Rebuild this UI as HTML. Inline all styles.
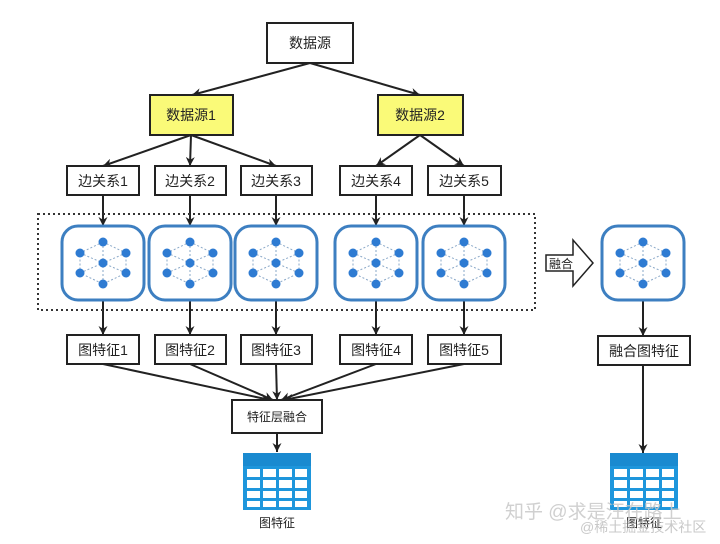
<!DOCTYPE html>
<html><head><meta charset="utf-8"><style>
body{margin:0;background:#fff;}
svg text{font-family:"Liberation Sans","Noto Sans CJK SC",sans-serif;}
</style></head><body>
<svg width="720" height="539" viewBox="0 0 720 539" xmlns="http://www.w3.org/2000/svg">
<defs>
<marker id="a" viewBox="0 0 10 10" refX="10" refY="5" markerWidth="9" markerHeight="9" markerUnits="userSpaceOnUse" orient="auto"><path d="M0,0L10,5L0,10L3,5z" fill="#222"/></marker>
<g id="g">
<rect x="-41" y="-37" width="82" height="74" rx="16" fill="#fff" stroke="#3d7fc1" stroke-width="3"/>
<g stroke="#8aa8c8" stroke-width="1" stroke-dasharray="2,2" fill="none">
<path d="M0,-21L23,-10L23,10L0,21L-23,10L-23,-10Z M0,-21L0,21 M-23,-10L23,10 M23,-10L-23,10"/>
</g>
<g fill="#2e7bd2">
<circle cx="0" cy="-21" r="4.5"/><circle cx="23" cy="-10" r="4.5"/><circle cx="23" cy="10" r="4.5"/>
<circle cx="0" cy="21" r="4.5"/><circle cx="-23" cy="10" r="4.5"/><circle cx="-23" cy="-10" r="4.5"/><circle cx="0" cy="0" r="4.5"/>
</g></g>
<g id="t">
<rect x="0" y="0" width="68" height="57" fill="#1e96dc"/>
<rect x="0" y="0" width="68" height="13" fill="#1a8ad0"/>
<g fill="#fff">
<rect x="4" y="16" width="13" height="8"/><rect x="20" y="16" width="13" height="8"/><rect x="36" y="16" width="13" height="8"/><rect x="52" y="16" width="12" height="8"/>
<rect x="4" y="27" width="13" height="8"/><rect x="20" y="27" width="13" height="8"/><rect x="36" y="27" width="13" height="8"/><rect x="52" y="27" width="12" height="8"/>
<rect x="4" y="38" width="13" height="7"/><rect x="20" y="38" width="13" height="7"/><rect x="36" y="38" width="13" height="7"/><rect x="52" y="38" width="12" height="7"/>
<rect x="4" y="48" width="13" height="6"/><rect x="20" y="48" width="13" height="6"/><rect x="36" y="48" width="13" height="6"/><rect x="52" y="48" width="12" height="6"/>
</g></g>
</defs>
<g stroke="#222" stroke-width="2" fill="none" marker-end="url(#a)">
<line x1="310" y1="63" x2="192" y2="95"/>
<line x1="310" y1="63" x2="420" y2="95"/>
<line x1="191" y1="135" x2="103" y2="166"/>
<line x1="191" y1="135" x2="190" y2="166"/>
<line x1="191" y1="135" x2="276" y2="166"/>
<line x1="420" y1="135" x2="376" y2="166"/>
<line x1="420" y1="135" x2="464" y2="166"/>
<line x1="103" y1="195" x2="103" y2="226"/>
<line x1="190" y1="195" x2="190" y2="226"/>
<line x1="276" y1="195" x2="276" y2="226"/>
<line x1="376" y1="195" x2="376" y2="226"/>
<line x1="464" y1="195" x2="464" y2="226"/>
<line x1="103" y1="300" x2="103" y2="335"/>
<line x1="190" y1="300" x2="190" y2="335"/>
<line x1="276" y1="300" x2="276" y2="335"/>
<line x1="376" y1="300" x2="376" y2="335"/>
<line x1="464" y1="300" x2="464" y2="335"/>
<line x1="643" y1="300" x2="643" y2="336"/>
<line x1="643" y1="365" x2="643" y2="453"/>
<line x1="103" y1="364" x2="270" y2="400"/>
<line x1="190" y1="364" x2="273" y2="400"/>
<line x1="276" y1="364" x2="277" y2="400"/>
<line x1="376" y1="364" x2="281" y2="400"/>
<line x1="464" y1="364" x2="284" y2="400"/>
<line x1="277" y1="433" x2="277" y2="452"/>
</g>
<rect x="38" y="214" width="497" height="96" fill="none" stroke="#333" stroke-width="2" stroke-dasharray="2,3"/>
<use href="#g" x="103" y="263"/><use href="#g" x="190" y="263"/><use href="#g" x="276" y="263"/><use href="#g" x="376" y="263"/><use href="#g" x="464" y="263"/><use href="#g" x="643" y="263"/>
<path d="M546,255L573,255L573,240L593,263L573,286L573,271L546,271Z" fill="#fff" stroke="#222" stroke-width="1.5"/>
<text x="561" y="268" font-size="12" fill="#222" text-anchor="middle">融合</text>
<g stroke="#222" stroke-width="2">
<rect x="267" y="23" width="86" height="40" fill="#fff"/>
<rect x="150" y="95" width="83" height="40" fill="#fafa78"/>
<rect x="378" y="95" width="85" height="40" fill="#fafa78"/>
<rect x="67" y="166" width="72" height="29" fill="#fff"/>
<rect x="155" y="166" width="71" height="29" fill="#fff"/>
<rect x="241" y="166" width="71" height="29" fill="#fff"/>
<rect x="340" y="166" width="72" height="29" fill="#fff"/>
<rect x="428" y="166" width="73" height="29" fill="#fff"/>
<rect x="67" y="335" width="72" height="29" fill="#fff"/>
<rect x="155" y="335" width="71" height="29" fill="#fff"/>
<rect x="241" y="335" width="71" height="29" fill="#fff"/>
<rect x="340" y="335" width="72" height="29" fill="#fff"/>
<rect x="428" y="335" width="73" height="29" fill="#fff"/>
<rect x="598" y="336" width="92" height="29" fill="#fff"/>
<rect x="232" y="400" width="90" height="33" fill="#fff"/>
</g>
<g font-size="14" fill="#222" text-anchor="middle">
<text x="310" y="48">数据源</text>
<text x="191" y="120">数据源1</text>
<text x="420" y="120">数据源2</text>
<text x="103" y="186">边关系1</text><text x="190" y="186">边关系2</text><text x="276" y="186">边关系3</text><text x="376" y="186">边关系4</text><text x="464" y="186">边关系5</text>
<text x="103" y="355">图特征1</text><text x="190" y="355">图特征2</text><text x="276" y="355">图特征3</text><text x="376" y="355">图特征4</text><text x="464" y="355">图特征5</text>
<text x="644" y="356">融合图特征</text>
<text x="277" y="421" font-size="12">特征层融合</text>
<text x="277" y="527" font-size="12">图特征</text>
<text x="644" y="527" font-size="12">图特征</text>
</g>
<use href="#t" x="243" y="453"/>
<use href="#t" x="610" y="453"/>
<text x="505" y="518" font-size="19" fill="#c8c8c8" opacity="0.85">知乎 @求是汪在路上</text>
<text x="580" y="532" font-size="14" fill="#bbb" opacity="0.8">@稀土掘金技术社区</text>
</svg>
</body></html>
